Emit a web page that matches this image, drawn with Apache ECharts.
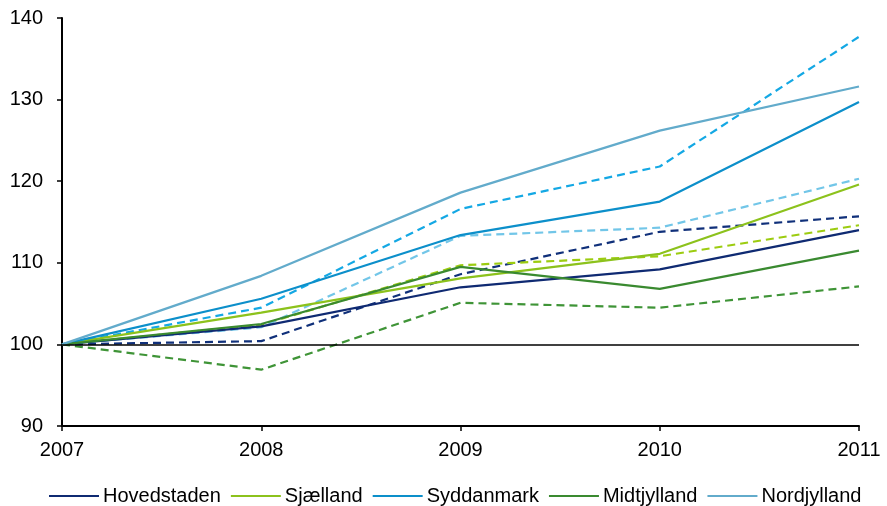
<!DOCTYPE html>
<html>
<head>
<meta charset="utf-8">
<script src="https://cdn.jsdelivr.net/npm/echarts@6/dist/echarts.min.js"></script>
<style>
  html, body { margin: 0; padding: 0; background: #fff; }
  #chart { width: 887px; height: 506px; }
</style>
</head>
<body>
<div id="chart"></div>
<script>
// Index, 2007 = 100
const years = ['2007', '2008', '2009', '2010', '2011'];
const yTicks = [90, 100, 110, 120, 130, 140];

// Solid lines (shown in legend)
const hovedstaden = [100, 102.2, 107.0, 109.2, 114.0];
const sjaelland   = [100, 103.9, 108.1, 111.1, 119.6];
const syddanmark  = [100, 105.6, 113.4, 117.5, 129.7];
const midtjylland = [100, 102.5, 109.5, 106.8, 111.5];
const nordjylland = [100, 108.4, 118.6, 126.2, 131.6];

// Dashed companion lines
const hovedstadenB = [100, 100.4, 108.6, 113.8, 115.7];
const sjaellandB   = [100, 102.4, 109.7, 110.8, 114.6];
const syddanmarkB  = [100, 104.5, 116.6, 121.8, 137.7];
const midtjyllandB = [100, 96.9, 105.1, 104.5, 107.1];
const nordjyllandB = [100, 102.1, 113.3, 114.3, 120.3];

const regions = ['Hovedstaden', 'Sjælland', 'Syddanmark', 'Midtjylland', 'Nordjylland'];

const font = 'Liberation Sans, Arial, sans-serif';
const dash = [8, 5];

function line(name, data, color, dashed) {
  return {
    name: name,
    type: 'line',
    data: data,
    symbol: 'none',
    silent: true,
    lineStyle: { color: color, width: 2.2, type: dashed ? dash : 'solid' },
    itemStyle: { color: color },
    z: dashed ? 2 : 3
  };
}

const series = [
  line('Hovedstaden (2)', hovedstadenB, '#10307a', true),
  line('Sjælland (2)', sjaellandB, '#9ccc10', true),
  line('Syddanmark (2)', syddanmarkB, '#14a8e4', true),
  line('Midtjylland (2)', midtjyllandB, '#3f9437', true),
  line('Nordjylland (2)', nordjyllandB, '#72c6e8', true),
  line('Hovedstaden', hovedstaden, '#0f2a72', false),
  line('Sjælland', sjaelland, '#8cc21c', false),
  line('Syddanmark', syddanmark, '#0c8fca', false),
  line('Midtjylland', midtjylland, '#3a8a30', false),
  line('Nordjylland', nordjylland, '#62abcb', false)
];

// Reference level at 100
series[0].markLine = {
  silent: true,
  symbol: 'none',
  label: { show: false },
  lineStyle: { color: '#000', width: 1.5, type: 'solid' },
  data: [{ yAxis: 100 }]
};

const chart = echarts.init(document.getElementById('chart'));
chart.setOption({
  animation: false,
  backgroundColor: '#fff',
  grid: { left: 62, right: 28, top: 18, bottom: 80, containLabel: false },
  legend: {
    data: regions,
    left: 44,
    bottom: -5,
    icon: 'rect',
    itemWidth: 50,
    itemHeight: 2,
    itemGap: 10,
    textStyle: { fontFamily: font, fontSize: 20, color: '#000', padding: [0, 0, 0, -1] }
  },
  xAxis: {
    type: 'category',
    data: years,
    boundaryGap: false,
    axisLine: { lineStyle: { color: '#000', width: 2 } },
    axisTick: { show: true, length: 5, lineStyle: { color: '#000', width: 1.5 } },
    axisLabel: { fontFamily: font, fontSize: 20, color: '#000', margin: 14 },
    splitLine: { show: false }
  },
  yAxis: {
    type: 'value',
    min: yTicks[0],
    max: yTicks[yTicks.length - 1],
    interval: 10,
    axisLine: { show: true, lineStyle: { color: '#000', width: 2 } },
    axisTick: { show: true, length: 5, lineStyle: { color: '#000', width: 1.5 } },
    axisLabel: { fontFamily: font, fontSize: 20, color: '#000', margin: 19 },
    splitLine: { show: false }
  },
  series: series
});
</script>
</body>
</html>
